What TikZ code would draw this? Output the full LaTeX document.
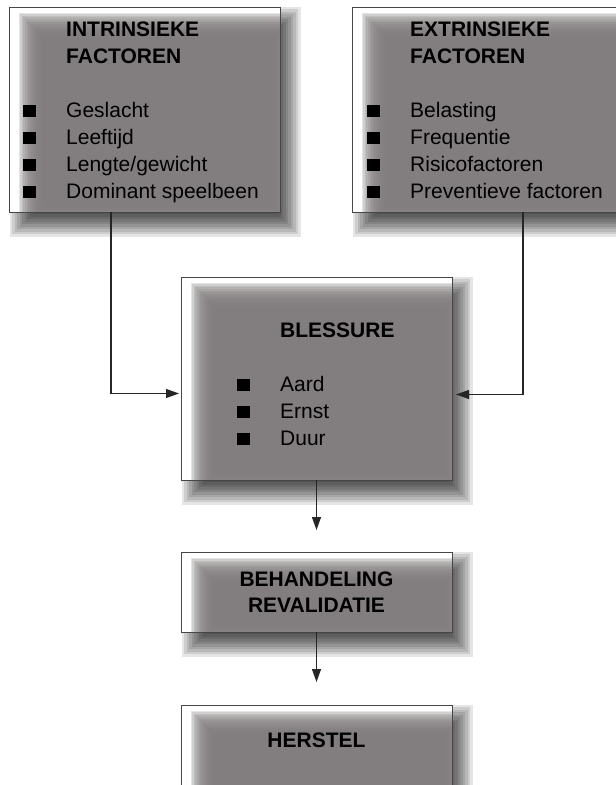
\documentclass[tikz,border=0pt]{standalone}
\usepackage{fontspec}
\setmainfont{Liberation Sans}
\usepackage{tikz}
\usetikzlibrary{
    arrows.meta,
    backgrounds,
    calc
}
\definecolor{boxgray}{RGB}{128,123,124}
\definecolor{boxline}{RGB}{70,70,70}
\newcommand{\blt}{\rule{13pt}{12pt}}
\tikzset{
    every picture/.style = {
        > = {Triangle[length = 13pt, width = 9pt]},
        x = 1pt,
        y = -1pt
    },
    box/.style = {
        draw = boxline,
        line width = 0.9pt,
        fill = white,
        inner sep = 0pt,
        outer sep = 0pt,
        path picture = {
            \foreach \k in {1,...,16}
                \fill[boxgray, opacity = 0.2]
                    ([shift = {({(8 + 1.6*\k)*1pt}, {-(4 + 1.6*\k)*1pt})}]path picture bounding box.north west)
                    rectangle
                    ([shift = {({(20 - 1.6*\k)*1pt}, {(1.6*\k - 20)*1pt})}]path picture bounding box.south east);
        }
    },
    txt/.style = {
        inner sep = 0pt,
        anchor = north west,
        text = black,
        font = \fontsize{21}{27}\selectfont
    },
    head/.style = {
        inner sep = 0pt,
        align = center,
        text = black,
        font = \bfseries\fontsize{21}{26}\selectfont
    },
    arr/.style = {
        ->,
        draw = black!85,
        line width = 1.2pt
    }
}

\begin{document}
\begin{tikzpicture}

    \useasboundingbox (0, 0) rectangle (616, 785);
    \clip (0, 0) rectangle (616, 785);

    % boxes
    \node[box, minimum width = 271pt, minimum height = 205pt] (intr) at (144.5, 109.5) {};
    \node[box, minimum width = 271pt, minimum height = 205pt] (extr) at (487.5, 109.5) {};
    \node[box, minimum width = 271pt, minimum height = 203pt] (bles) at (316.5, 378.5) {};
    \node[box, head, minimum width = 271pt, minimum height = 80pt] (behand) at (316.5, 592) {BEHANDELING\\REVALIDATIE};
    \node[box, minimum width = 271pt, minimum height = 100pt] (herst) at (316.5, 755) {};

    % texts
    \node[txt] (intr-txt) at (23, 17) {\begin{tabular}{@{}p{43pt}@{}l@{}}
        & \textbf{INTRINSIEKE} \\
        & \textbf{FACTOREN} \\
        & \\
        \blt & Geslacht \\
        \blt & Leeftijd \\
        \blt & Lengte/gewicht \\
        \blt & Dominant speelbeen
    \end{tabular}};
    \node[txt] (extr-txt) at (367, 17) {\begin{tabular}{@{}p{43pt}@{}l@{}}
        & \textbf{EXTRINSIEKE} \\
        & \textbf{FACTOREN} \\
        & \\
        \blt & Belasting \\
        \blt & Frequentie \\
        \blt & Risicofactoren \\
        \blt & Preventieve factoren
    \end{tabular}};
    \node[txt] (bles-txt) at (237, 318) {\begin{tabular}{@{}p{43pt}@{}l@{}}
        & \textbf{BLESSURE} \\
        & \\
        \blt & Aard \\
        \blt & Ernst \\
        \blt & Duur
    \end{tabular}};
    \node[head] (herst-txt) at (316.5, 740.5) {HERSTEL};

    % connectors
    \draw[arr, shorten > = 2pt] ([xshift = 102pt]intr.south west) |- ([yshift = -15pt]bles.west);
    \draw[arr, shorten > = 4pt] ([xshift = 171pt]extr.south west) |- ([yshift = -16pt]bles.east);
    \draw[arr, shorten > = 22pt] (bles.south) -- (behand.north);
    \draw[arr, shorten > = 23pt] (behand.south) -- (herst.north);

    % shadows
    \begin{scope}[on background layer]
        \fill[white] (0, 0) rectangle (616, 785);
        \foreach \n in {intr, extr, bles, behand, herst}
            \foreach \k in {1,...,12}
                \fill[black, opacity = 0.1]
                    ([shift = {({(2.5*\k - 2)*1pt}, {(3 - 2.5*\k)*1pt})}]\n.north west)
                    rectangle
                    ([shift = {({(23 - 2.5*\k)*1pt}, {(2.5*\k - 27)*1pt})}]\n.south east);
    \end{scope}

\end{tikzpicture}
\end{document}
